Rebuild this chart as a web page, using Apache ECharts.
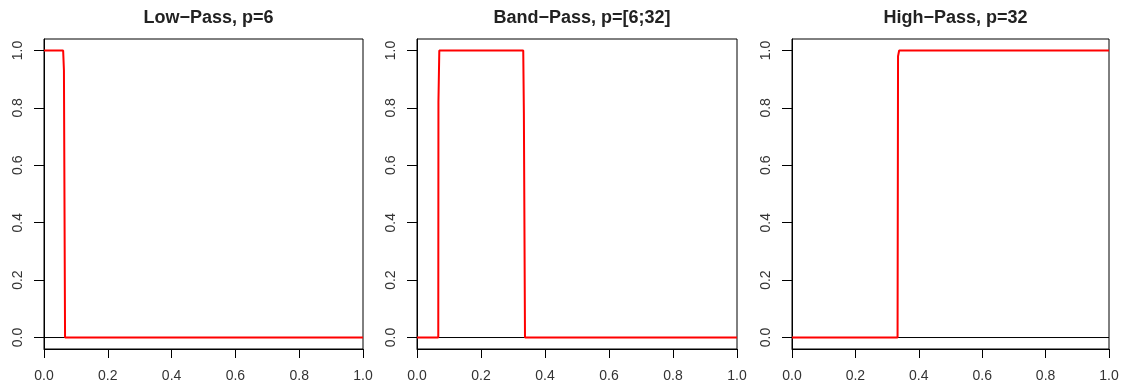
<!DOCTYPE html>
<html>
<head>
<meta charset="utf-8">
<title>Filters</title>
<script src="https://cdn.jsdelivr.net/npm/echarts@6/dist/echarts.min.js"></script>
<style>
  html, body { margin: 0; padding: 0; background: #fff; }
  #main { width: 1125px; height: 391px; }
</style>
</head>
<body>
<div id="main"></div>
<script>
// panel titles
var titles = ['Low\u2212Pass, p=6', 'Band\u2212Pass, p=[6;32]', 'High\u2212Pass, p=32'];

// filter gain vs frequency (vertices of each curve)
var lowFreq = [0, 0.060, 0.0625, 0.066, 1];
var lowGain = [1, 1, 0.93, 0, 0];
var bandFreq = [0, 0.0665, 0.067, 0.0697, 0.332, 0.334, 0.3375, 1];
var bandGain = [0, 0, 0.82, 1, 1, 0.78, 0, 0];
var highFreq = [0, 0.333, 0.3345, 0.338, 1];
var highGain = [0, 0, 0.98, 1, 1];

// reference line h=0
var zeroFreq = [0, 1];
var zeroGain = [0, 0];

var yTicks = [0, 0.2, 0.4, 0.6, 0.8, 1.0];

function pairs(xs, ys) {
  return xs.map(function (x, i) { return [x, ys[i]]; });
}

var curves = [pairs(lowFreq, lowGain), pairs(bandFreq, bandGain), pairs(highFreq, highGain)];

var chartDom = document.getElementById('main');
var myChart = echarts.init(chartDom);

var grids = [
  { left: 44, top: 39, width: 319, height: 310 },
  { left: 417, top: 39, width: 320, height: 310 },
  { left: 792, top: 39, width: 317, height: 310 }
];

var font = 'Liberation Sans, Arial, sans-serif';

var option = {
  backgroundColor: '#fff',
  animation: false,
  title: [],
  grid: [],
  xAxis: [],
  yAxis: [],
  series: []
};

grids.forEach(function (g, i) {
  option.title.push({
    text: titles[i],
    left: g.left + g.width / 2,
    top: 4,
    textAlign: 'center',
    textStyle: { fontFamily: font, fontSize: 18, fontWeight: 'bold', color: '#222' }
  });
  option.grid.push({
    left: g.left, top: g.top, width: g.width, height: g.height,
    show: true, borderColor: '#000', borderWidth: 1, backgroundColor: '#fff'
  });
  option.xAxis.push({
    type: 'value', gridIndex: i, min: 0, max: 1, interval: 0.2,
    axisLine: { show: true, onZero: false, lineStyle: { color: '#000', width: 1 } },
    axisTick: { show: true, length: 9, lineStyle: { color: '#000', width: 1 } },
    axisLabel: {
      margin: 20, fontFamily: font, fontSize: 14, color: '#333',
      formatter: function (v) { return v.toFixed(1); }
    },
    splitLine: { show: false }
  });
  option.yAxis.push({
    type: 'value', gridIndex: i, min: -0.04, max: 1.04,
    axisLine: { show: true, onZero: false, lineStyle: { color: '#000', width: 1 } },
    axisTick: { show: true, length: 10, customValues: yTicks, lineStyle: { color: '#000', width: 1 } },
    axisLabel: {
      customValues: yTicks, rotate: 90, margin: 19, fontFamily: font, fontSize: 14, color: '#333',
      formatter: function (v) { return v.toFixed(1); }
    },
    splitLine: { show: false }
  });
  option.series.push({
    type: 'line', xAxisIndex: i, yAxisIndex: i, z: 1,
    data: pairs(zeroFreq, zeroGain), symbol: 'none', silent: true,
    lineStyle: { color: '#000', width: 1 }
  });
  option.series.push({
    type: 'line', xAxisIndex: i, yAxisIndex: i, z: 2,
    data: curves[i], symbol: 'none',
    lineStyle: { color: '#ff0000', width: 2 }
  });
});

option && myChart.setOption(option);
</script>
</body>
</html>
